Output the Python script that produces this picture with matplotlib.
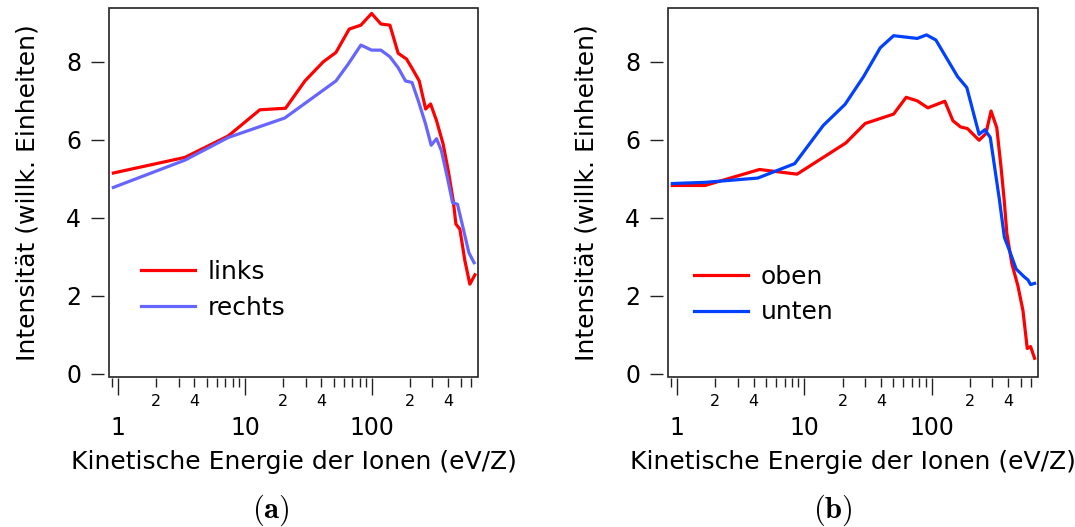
import numpy as np
import matplotlib
matplotlib.use("Agg")
import matplotlib.pyplot as plt
from matplotlib.ticker import LogLocator, FixedLocator, FuncFormatter
from matplotlib.patches import Rectangle

# ---------------- data ----------------
links_x = [0.92, 3.37, 7.39, 13.1, 20.9, 29.7, 41.4, 52.1, 66.3, 81.9, 99.5, 117.7, 138.6,
           161, 187.6, 211, 236, 265, 290, 323, 364, 400, 437, 459, 493, 540, 591, 648]
links_y = [5.15, 5.55, 6.10, 6.77, 6.81, 7.51, 8.00, 8.24, 8.84, 8.94, 9.24, 8.97, 8.94,
           8.22, 8.07, 7.79, 7.51, 6.79, 6.92, 6.49, 5.89, 5.20, 4.44, 3.84, 3.71, 2.90, 2.30, 2.54]

rechts_x = [0.92, 3.37, 7.39, 20.6, 52.1, 65, 81.9, 99.5, 117.7, 138.6, 161, 184, 207,
            232, 265, 293, 323, 353, 395, 432, 472, 522, 580, 638]
rechts_y = [4.78, 5.48, 6.06, 6.56, 7.51, 7.94, 8.43, 8.30, 8.30, 8.13, 7.85, 7.51, 7.47,
            7.00, 6.40, 5.86, 6.03, 5.72, 5.00, 4.39, 4.35, 3.75, 3.11, 2.85]

oben_x = [0.92, 1.66, 4.45, 8.77, 21.2, 30.1, 50.3, 63.1, 77.1, 93.5, 127, 147, 169, 191,
          236, 267, 293, 325, 351, 372, 390, 427, 476, 522, 564, 599, 644]
oben_y = [4.83, 4.83, 5.24, 5.12, 5.92, 6.42, 6.66, 7.09, 7.00, 6.82, 6.99, 6.49, 6.33, 6.29,
          5.99, 6.16, 6.74, 6.31, 5.30, 4.44, 3.60, 2.82, 2.26, 1.62, 0.65, 0.70, 0.40]

unten_x = [0.92, 1.66, 4.31, 8.41, 14.1, 20.9, 29.2, 39.5, 50.3, 77.1, 91.2, 108, 160, 189,
           236, 262, 289, 340, 373, 409, 461, 537, 571, 599, 644]
unten_y = [4.88, 4.91, 5.02, 5.39, 6.37, 6.91, 7.62, 8.36, 8.67, 8.60, 8.69, 8.56, 7.62, 7.34,
           6.14, 6.26, 6.06, 4.49, 3.50, 3.16, 2.69, 2.48, 2.41, 2.29, 2.32]

y_ticks = [0, 2, 4, 6, 8]
x_major = [1, 10, 100]
x_major_labels = ["1", "10", "100"]
minor_labelled = [2, 4]

xlabel = "Kinetische Energie der Ionen (eV/Z)"
ylabel = "Intensität (willk. Einheiten)"

plt.rcParams['font.family'] = ['DejaVu Sans']
plt.rcParams['mathtext.fontset'] = 'cm'

W, H = 1075, 527
fig = plt.figure(figsize=(W / 100, H / 100), dpi=100)

def px_axes(l, r, t, b):
    return fig.add_axes([l / W, 1 - b / H, (r - l) / W, (b - t) / H])

ax_a = px_axes(109, 478, 8, 377)
ax_b = px_axes(668, 1038, 8, 377)

def minor_fmt(x, pos):
    m = x / 10 ** np.floor(np.log10(x) + 1e-9)
    mi = int(round(m))
    return str(mi) if mi in minor_labelled else ""

def style(ax, leg_anchor):
    ax.set_xscale('log')
    ax.set_xlim(0.85, 685)
    ax.set_ylim(-0.08, 9.38)
    ax.set_yticks(y_ticks)
    ax.xaxis.set_major_locator(FixedLocator(x_major))
    ax.set_xticklabels(x_major_labels)
    ax.xaxis.set_minor_locator(LogLocator(base=10, subs=np.arange(2, 10) / 1.0, numticks=20))
    ax.xaxis.set_minor_formatter(FuncFormatter(minor_fmt))
    ax.tick_params(axis='x', which='major', direction='out', length=12, width=1.0,
                   labelsize=17, pad=15, color='#222222')
    ax.tick_params(axis='x', which='minor', direction='out', length=6.5, width=1.0,
                   labelsize=11.5, pad=5, color='#222222')
    ax.tick_params(axis='y', which='major', direction='out', length=9.5, width=1.0,
                   labelsize=17, pad=7, color='#222222')
    ax.tick_params(top=False, right=False)
    for s in ['left', 'bottom']:
        ax.spines[s].set_color('none')
    ax.spines['left'].set_position(('outward', 3.6))
    ax.spines['bottom'].set_position(('outward', 1))
    for s in ['top', 'right']:
        ax.spines[s].set_visible(False)
    ax.add_patch(Rectangle((0, 0), 1, 1, transform=ax.transAxes, fill=False,
                           lw=1.2, edgecolor='#222222', clip_on=False, zorder=5))
    ax.set_xlabel(xlabel, fontsize=18, labelpad=7)
    ax.set_ylabel(ylabel, fontsize=18, labelpad=19)
    ax.legend(loc='upper left', bbox_to_anchor=leg_anchor, frameon=False, fontsize=18,
              handlelength=2.16, handletextpad=0.52, labelspacing=0.46,
              borderpad=0, borderaxespad=0)

ax_a.plot(links_x, links_y, color='#ff0000', lw=2.3, label='links')
ax_a.plot(rechts_x, rechts_y, color='#6666ff', lw=2.3, label='rechts')
style(ax_a, (0.087, 0.317))

ax_b.plot(oben_x, oben_y, color='#ff0000', lw=2.3, label='oben')
ax_b.plot(unten_x, unten_y, color='#0040ff', lw=2.3, label='unten')
style(ax_b, (0.070, 0.304))

fig.text(271 / W, 1 - 510 / H, r'$\mathbf{(a)}$', fontsize=22, ha='center', va='center')
fig.text(833 / W, 1 - 510 / H, r'$\mathbf{(b)}$', fontsize=22, ha='center', va='center')

fig.savefig('out.png', dpi=100)
